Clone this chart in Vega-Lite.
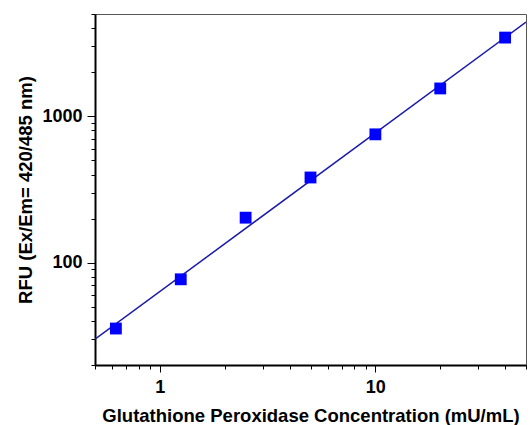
{
  "$schema": "https://vega.github.io/schema/vega-lite/v6.json",
  "autosize": "none",
  "width": 431,
  "height": 351,
  "padding": {"left": 95, "top": 14, "right": 4, "bottom": 60},
  "background": "white",
  "config": {
    "view": {"stroke": "#555555", "strokeWidth": 1},
    "font": "Liberation Sans"
  },
  "datasets": {
    "pts": [
      {"conc": 0.625, "rfu": 35.5},
      {"conc": 1.25, "rfu": 77},
      {"conc": 2.5, "rfu": 203},
      {"conc": 5, "rfu": 382},
      {"conc": 10, "rfu": 753},
      {"conc": 20, "rfu": 1550},
      {"conc": 40, "rfu": 3450}
    ],
    "fit": [
      {"conc": 0.5, "rfu": 30},
      {"conc": 50, "rfu": 4400}
    ]
  },
  "layer": [
    {
      "data": {"name": "fit"},
      "mark": {"type": "line", "color": "#1a1aa8", "strokeWidth": 1.5, "clip": true},
      "encoding": {
        "x": {"field": "conc", "type": "quantitative",
          "scale": {"type": "log", "domain": [0.5, 50], "nice": false},
          "axis": {
            "title": "Glutathione Peroxidase Concentration (mU/mL)",
            "titleFont": "Liberation Sans", "titleFontSize": 18.5, "titleFontWeight": "bold", "titleColor": "black",
            "titlePadding": 10,
            "values": [0.5, 0.6, 0.7, 0.8, 0.9, 1, 2, 3, 4, 5, 6, 7, 8, 9, 10, 20, 30, 40, 50],
            "format": ".0f",
            "labelExpr": "datum.value == 1 || datum.value == 10 ? datum.label : ''",
            "labelFont": "Liberation Sans", "labelFontSize": 18, "labelFontWeight": "bold", "labelColor": "black",
            "labelPadding": 6,
            "labelFlush": false, "labelOverlap": false,
            "grid": false,
            "domainColor": "black", "domainWidth": 2,
            "tickColor": "black", "tickWidth": 1,
            "tickSize": {"condition": {"test": "datum.value == 1 || datum.value == 10", "value": 7}, "value": 4}
          }
        },
        "y": {"field": "rfu", "type": "quantitative",
          "scale": {"type": "log", "domain": [20, 5000], "nice": false},
          "axis": {
            "title": "RFU (Ex/Em= 420/485 nm)",
            "titleFont": "Liberation Sans", "titleFontSize": 18.5, "titleFontWeight": "bold", "titleColor": "black",
            "titlePadding": 6,
            "values": [20, 30, 40, 50, 60, 70, 80, 90, 100, 200, 300, 400, 500, 600, 700, 800, 900, 1000, 2000, 3000, 4000, 5000],
            "format": ".0f",
            "labelExpr": "datum.value == 100 || datum.value == 1000 ? datum.label : ''",
            "labelFont": "Liberation Sans", "labelFontSize": 18, "labelFontWeight": "bold", "labelColor": "black",
            "labelPadding": 5,
            "labelFlush": false, "labelOverlap": false,
            "grid": false,
            "domainColor": "black", "domainWidth": 2,
            "tickColor": "black", "tickWidth": 1,
            "tickSize": {"condition": {"test": "datum.value == 100 || datum.value == 1000", "value": 8}, "value": 4}
          }
        }
      }
    },
    {
      "data": {"name": "pts"},
      "mark": {"type": "square", "color": "#0000ff", "opacity": 1, "size": 140},
      "encoding": {
        "x": {"field": "conc", "type": "quantitative"},
        "y": {"field": "rfu", "type": "quantitative"}
      }
    }
  ]
}
